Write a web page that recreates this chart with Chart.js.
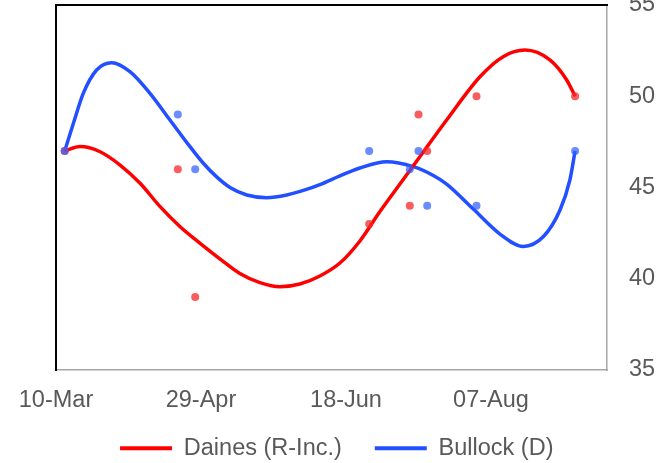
<!DOCTYPE html>
<html>
<head>
<meta charset="utf-8">
<script src="https://cdn.jsdelivr.net/npm/chart.js@4.4.1/dist/chart.umd.min.js"></script>
<style>
  html, body { margin: 0; padding: 0; background: #fff; overflow: hidden; }
</style>
</head>
<body>
<canvas id="chart" width="658" height="470"></canvas>
<script>
// poll results (percent)
const startDate = "2020-03-10";
const pollDates = ["2020-03-13", "2020-04-21", "2020-04-27", "2020-06-26", "2020-07-10",
                   "2020-07-13", "2020-07-16", "2020-08-02", "2020-09-05"];
const dainesPolls = [47, 46, 39, 43, 44, 49, 47, 50, 50];
const bullockPolls = [47, 49, 46, 47, 46, 47, 44, 44, 47];

// trend lines (days after 10-Mar, percent)
const dainesTrendDays = [3, 8.3, 15.2, 22.1, 29.0, 35.9, 42.8, 49.7, 56.6, 63.4, 70.3, 77.2, 84.1,
                         91.0, 97.9, 104.8, 111.7, 118.6, 124.4, 134.7, 146.2, 154.2, 161.7, 170.3, 176.1, 179];
const dainesTrend = [47.0, 47.24, 46.96, 46.23, 45.23, 43.95, 42.85, 41.94, 41.08, 40.29, 39.79, 39.56, 39.71,
                     40.15, 40.86, 42.07, 43.68, 45.19, 46.45, 48.7, 51.07, 52.17, 52.53, 51.99, 50.89, 50.0];
const bullockTrendDays = [3, 6.0, 9.4, 14.0, 19.2, 25.5, 32.4, 39.3, 46.2, 50.8, 55.4, 60.0, 65.8, 72.7,
                          79.6, 85.3, 91.0, 97.9, 104.8, 114.0, 123.2, 130.1, 134.7, 143.9, 153.1, 161.1,
                          168.0, 173.8, 177.2, 179];
const bullockTrend = [47.0, 48.52, 50.16, 51.44, 51.84, 51.35, 50.16, 48.7, 47.24, 46.33, 45.58, 45.0, 44.59, 44.44,
                      44.59, 44.84, 45.16, 45.64, 46.07, 46.41, 46.14, 45.66, 45.19, 43.82, 42.45, 41.77,
                      42.3, 43.77, 45.41, 47.0];

const xTicks = [0, 50, 100, 150];
const xTickLabels = ["10-Mar", "29-Apr", "18-Jun", "07-Aug"];

function dayOf(s) {
  return (new Date(s) - new Date(startDate)) / 86400000;
}

function points(xs, ys) {
  return xs.map((x, i) => ({ x: x, y: ys[i] }));
}

const pollDays = pollDates.map(dayOf);

Chart.defaults.font.family = "'Liberation Sans', Arial, sans-serif";
Chart.defaults.font.size = 23.5;
Chart.defaults.color = "#595959";

new Chart(document.getElementById("chart"), {
  type: "scatter",
  data: {
    datasets: [{
      type: "line",
      label: "Daines (R-Inc.)",
      data: points(dainesTrendDays, dainesTrend),
      borderColor: "#ff0000",
      backgroundColor: "#ff0000",
      borderWidth: 3.5,
      pointRadius: 0,
      cubicInterpolationMode: "monotone",
      fill: false,
      order: 3
    }, {
      type: "line",
      label: "Bullock (D)",
      data: points(bullockTrendDays, bullockTrend),
      borderColor: "#224fff",
      backgroundColor: "#224fff",
      borderWidth: 3.5,
      pointRadius: 0,
      cubicInterpolationMode: "monotone",
      fill: false,
      order: 4
    }, {
      label: "Daines polls",
      data: points(pollDays, dainesPolls),
      backgroundColor: "rgba(245, 40, 40, 0.75)",
      borderWidth: 0,
      pointRadius: 4,
      order: 2
    }, {
      label: "Bullock polls",
      data: points(pollDays, bullockPolls),
      backgroundColor: "rgba(50, 95, 255, 0.72)",
      borderWidth: 0,
      pointRadius: 4,
      order: 1
    }]
  },
  options: {
    responsive: false,
    animation: false,
    layout: { padding: { left: 15.5, top: 5, right: 0, bottom: 0 } },
    plugins: {
      tooltip: { enabled: false },
      legend: {
        position: "bottom",
        labels: {
          boxWidth: 52,
          boxHeight: 4,
          padding: 33,
          generateLabels: chart =>
            Chart.defaults.plugins.legend.labels.generateLabels(chart)
              .filter(l => l.datasetIndex < 2)
              .map(l => Object.assign(l, { lineWidth: 0, fillStyle: l.strokeStyle }))
        }
      }
    },
    scales: {
      x: {
        type: "linear",
        position: "bottom",
        min: 0,
        max: 190,
        ticks: {
          stepSize: 50,
          padding: 16,
          maxRotation: 0,
          callback: v => xTickLabels[xTicks.indexOf(v)]
        },
        afterBuildTicks: s => { s.ticks = s.ticks.filter(t => xTicks.includes(t.value)); },
        afterFit: s => {
          s.height = 470 - 66.5 - 370;
          s.paddingLeft = 0;
          s.paddingRight = 0;
          // let the tick labels run below the thin axis box
          s._computeLabelArea = () => undefined;
        },
        grid: { display: false, drawTicks: false },
        border: { color: "#a6a6a6", width: 1.5 }
      },
      y: {
        type: "linear",
        position: "right",
        min: 35,
        max: 55,
        ticks: { stepSize: 5, padding: 22 },
        afterFit: s => { s.width = 51; s.paddingTop = 0; s.paddingBottom = 0; },
        grid: { display: false, drawTicks: false },
        border: { color: "#a6a6a6", width: 1.5 }
      },
      xTop: {
        type: "linear",
        position: "top",
        ticks: { display: false },
        afterFit: s => { s.height = 0; s.paddingLeft = 0; s.paddingRight = 0; },
        grid: { display: false, drawTicks: false },
        border: { color: "#000000", width: 2 }
      },
      yLeft: {
        type: "linear",
        position: "left",
        ticks: { display: false },
        afterFit: s => { s.width = 40.5; s.paddingTop = 0; s.paddingBottom = 0; },
        grid: { display: false, drawTicks: false },
        border: { color: "#000000", width: 2 }
      }
    }
  }
});
</script>
</body>
</html>
